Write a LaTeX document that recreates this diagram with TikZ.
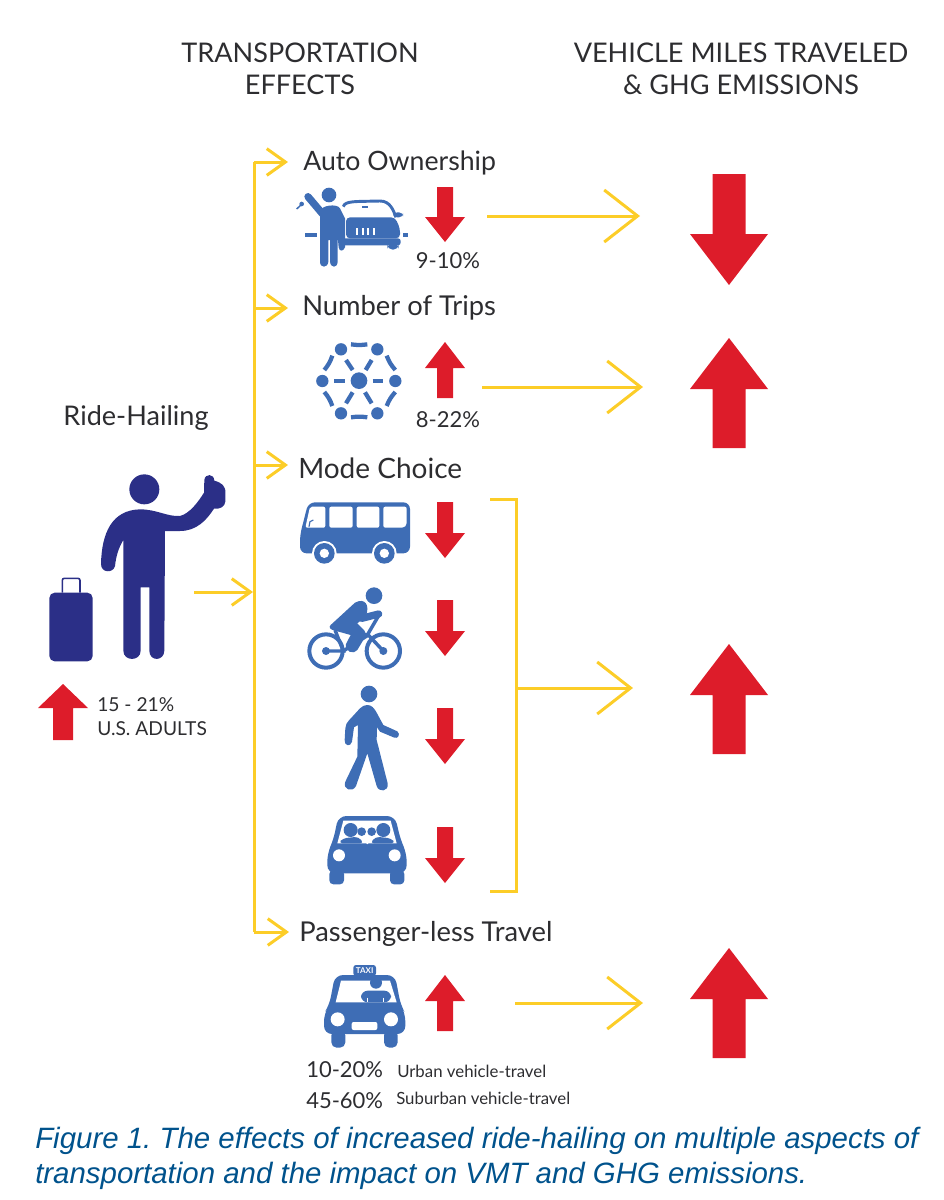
\documentclass[tikz,border=0pt]{standalone}
\usepackage{fontspec}
\setmainfont{Lato}
\newfontfamily\captionfont{Liberation Sans}
\usetikzlibrary{arrows.meta}
\definecolor{hailnavy}{RGB}{43,47,135}
\definecolor{iconblue}{RGB}{62,109,181}
\definecolor{arrowred}{RGB}{221,28,42}
\definecolor{lineyellow}{RGB}{252,205,40}
\definecolor{captionblue}{RGB}{0,82,140}
\definecolor{labelgray}{RGB}{45,45,48}
\tikzset{
  bigarrow/.style={draw=lineyellow,line width=2.25pt,-{Straight Barb[length=25pt,width=39pt,line width=2.25pt]}},
  smallarrow/.style={draw=lineyellow,line width=2.25pt,-{Straight Barb[length=14pt,width=20pt,line width=2.25pt]}},
  yellowline/.style={draw=lineyellow,line width=2.25pt},
  heading/.style={inner sep=0pt,text=labelgray,align=center,font=\fontsize{20.3}{24}\selectfont},
  effect/.style={inner sep=0pt,anchor=west,text=labelgray,font=\fontsize{20.5}{24}\selectfont},
  percent/.style={inner sep=0pt,text=labelgray,font=\fontsize{16.5}{18}\selectfont},
  tinylabel/.style={inner sep=0pt,anchor=west,text=labelgray,font=\fontsize{12.6}{15}\selectfont},
  iconA/.style={shift={(280,140)},scale=1/3},
  iconB/.style={shift={(280,490)},scale=1/3},
  iconC/.style={shift={(290,950)},scale=1/3},
  iconD/.style={shift={(30,460)},scale=1/3},
}
% x, tail, head base, tip, half shaft, half head
\newcommand{\redarrow}[6]{\fill[arrowred] (#1-#5,#2) -- (#1+#5,#2) -- (#1+#5,#3) -- (#1+#6,#3) -- (#1,#4) -- (#1-#6,#3) -- (#1-#5,#3) -- cycle;}
\begin{document}
\begin{tikzpicture}[x=0.75pt,y=0.75pt,yscale=-1,xscale=1]
  \useasboundingbox (0,0) rectangle (943,1200);
  %headings
  \node[heading] (transport) at (300,69) {TRANSPORTATION\\EFFECTS};
  \node[heading] (vmt) at (741,69) {VEHICLE MILES TRAVELED\\\& GHG EMISSIONS};
  \node[heading] (ridehail) at (136,418) {Ride-Hailing};
  %labels
  \node[effect,font=\fontsize{20}{24}\selectfont] (auto) at (303,163) {Auto Ownership};
  \node[effect] (trips) at (302,308) {Number of Trips};
  \node[effect,font=\fontsize{21}{24}\selectfont] (mode) at (298,468) {Mode Choice};
  \node[effect] (empty) at (299,934) {Passenger-less Travel};
  \node[percent] (autopct) at (448,261) {9-10\%};
  \node[percent] (tripspct) at (448,420) {8-22\%};
  \node[percent,anchor=west] (urbanpct) at (306,1070) {10-20\%};
  \node[percent,anchor=west] (suburbpct) at (306,1101) {45-60\%};
  \node[tinylabel] (urban) at (397,1071) {Urban vehicle-travel};
  \node[tinylabel] (suburb) at (396,1098) {Suburban vehicle-travel};
  \node[tinylabel,font=\fontsize{14.4}{17}\selectfont] (adultpct) at (97,705) {15 - 21\%};
  \node[tinylabel,font=\fontsize{14.4}{17}\selectfont] (adults) at (97,729) {U.S. ADULTS};
  \node[inner sep=0pt,anchor=west,text=captionblue,align=left,font=\captionfont\itshape\fontsize{22.07}{26.2}\selectfont] (caption) at (35,1158) {\frenchspacing Figure 1. The effects of increased ride-hailing on multiple aspects of\\transportation and the impact on VMT and GHG emissions.};
  %yellow connectors
  \coordinate (trunktop) at (254,162);
  \coordinate (trunktrips) at (254,308);
  \coordinate (trunkmode) at (254,465);
  \coordinate (trunkin) at (253,592);
  \coordinate (trunkbot) at (254,932);
  \coordinate (handoff) at (194,592);
  \coordinate (autotail) at (487,216);
  \coordinate (autohead) at (640,216);
  \coordinate (tripstail) at (482,387);
  \coordinate (tripshead) at (643,387);
  \coordinate (modetop) at (490,499);
  \coordinate (modetopr) at (516.5,499);
  \coordinate (modebotr) at (516.5,891);
  \coordinate (modebot) at (490,891);
  \coordinate (modetail) at (516.5,688);
  \coordinate (modehead) at (633,688);
  \coordinate (emptytail) at (515,1003);
  \coordinate (emptyhead) at (643,1003);
  \draw[yellowline] (trunktop) -- (trunkbot);
  \draw[smallarrow] (trunktop) -- ++(34,0);
  \draw[smallarrow] (trunktrips) -- ++(34,0);
  \draw[smallarrow] (trunkmode) -- ++(34,0);
  \draw[smallarrow] (trunkbot) -- ++(35,0);
  \draw[smallarrow] (handoff) -- (trunkin);
  \draw[bigarrow] (autotail) -- (autohead);
  \draw[bigarrow] (tripstail) -- (tripshead);
  \draw[yellowline] (modetop) -- (modetopr) -- (modebotr) -- (modebot);
  \draw[bigarrow] (modetail) -- (modehead);
  \draw[bigarrow] (emptytail) -- (emptyhead);
  %big red arrows
  \redarrow{729}{174}{234}{285}{16.5}{39}
  \foreach \y in {338, 644, 948} {
    \redarrow{729}{\y+110}{\y+51}{\y}{16.5}{39}
  }
  %small red arrows
  \redarrow{445}{187}{217}{242}{8}{20}
  \redarrow{445}{398}{368}{342}{8}{20}
  \foreach \y in {502, 600, 708, 827} {
    \redarrow{445}{\y}{\y+31}{\y+56}{8}{20}
  }
  \redarrow{445}{1031}{1001}{975}{8}{20}
  \redarrow{63}{740}{708}{684}{10}{25}
  %hailing person and suitcase
  \begin{scope}[iconD,hailnavy]
    \fill (343,88) circle (45);
    \fill (213,312) .. controls (215,220) and (245,150) .. (330,148)
      .. controls (380,148) and (410,170) .. (450,168)
      .. controls (480,160) and (505,125) .. (522,98)
      -- (523,60) .. controls (525,40) and (552,40) .. (553,62)
      .. controls (575,68) and (588,78) .. (586,100)
      -- (586,125) .. controls (585,140) and (570,148) .. (552,146)
      .. controls (530,180) and (500,213) .. (450,213)
      -- (405,213) -- (403,572) .. controls (402,605) and (358,605) .. (358,572)
      -- (358,382) -- (332,382) -- (332,572) .. controls (332,605) and (280,605) .. (280,572)
      -- (280,240) .. controls (265,265) and (258,290) .. (255,318)
      .. controls (250,340) and (213,340) .. (213,312) -- cycle;
    \fill[rounded corners=4pt] (58,398) rectangle (188,604);
    \draw[line width=1.2pt,rounded corners=1.5pt] (97,398) -- (97,355) -- (150,355) -- (150,398);
  \end{scope}
  %auto ownership icon
  \begin{scope}[iconA,iconblue]
    \fill (147,165) circle (22);
    \draw[line width=5.5pt,line cap=round] (128,222) -- (84,170);
    \fill (120,215) .. controls (122,195) and (172,190) .. (180,205) -- (195,235) -- (195,322) .. controls (190,335) and (178,335) .. (176,322) -- (173,290) -- (173,365) .. controls (172,385) and (152,385) .. (150,365) -- (150,300) -- (145,300) -- (145,365) .. controls (143,385) and (120,385) .. (120,365) -- cycle;
    \draw[line width=1.1pt] (68,190) -- (50,207);
    \fill (65,192) circle (7);
    \draw[line width=2.2pt] (190,200) .. controls (195,182) and (225,185) .. (300,183) .. controls (330,183) and (340,210) .. (348,232);
    \fill (245,197) rectangle (265,203);
    \fill[rounded corners=3pt] (198,232) -- (345,232) -- (360,265) -- (360,295) -- (198,295) -- cycle;
    \fill[rounded corners=2pt] (180,295) rectangle (362,316);
    \fill[rounded corners=4pt] (322,310) rectangle (356,329);
    \fill[rounded corners=3pt] (340,217) rectangle (369,232);
    \fill (75,280) rectangle (110,290);
    \fill (370,280) rectangle (385,291);
    \foreach \x in {228,245,262,280} {
      \fill[white] (\x,264) rectangle ++(6,22);
    }
  \end{scope}
  %number of trips icon
  \begin{scope}[iconA,iconblue]
    \fill (237,722) circle (25);
    \foreach \x/\y in {127/723, 346/723, 183/628, 292/628, 183/820, 292/820} {
      \fill (\x,\y) circle (18.5);
    }
    \foreach \a/\b/\c/\d in {163/722/195/722, 278/722/310/722, 198/660/218/690, 275/660/257/690, 198/790/218/757, 275/790/255/757} {
      \draw[line width=3.2pt] (\a,\b) -- (\c,\d);
    }
    \draw[line width=3.2pt] (213,613) to[bend left=8] (262,613);
    \draw[line width=3.2pt] (213,832) to[bend right=8] (262,832);
    \draw[line width=3.2pt] (133,690) to[bend left=10] (157,647);
    \draw[line width=3.2pt] (320,647) to[bend left=10] (346,690);
    \draw[line width=3.2pt] (133,756) to[bend right=10] (157,798);
    \draw[line width=3.2pt] (320,798) to[bend right=10] (346,756);
  \end{scope}
  %bus
  \begin{scope}[iconB,iconblue]
    \fill[rounded corners=5pt] (85,37) -- (390,37) -- (390,190) -- (60,190) -- (60,135) -- cycle;
    \fill[white,rounded corners=1.5pt] (90,50) -- (136,50) -- (136,113) -- (76,113) -- cycle;
    \draw[line width=0.9pt] (87,110) -- (90,95) -- (100,90);
    \fill[white,rounded corners=1.5pt] (148,50) rectangle (218,113);
    \fill[white,rounded corners=1.5pt] (230,50) rectangle (298,113);
    \fill[white,rounded corners=1.5pt] (310,50) -- (380,50) -- (380,105) -- (372,113) -- (310,113) -- cycle;
    \foreach \x in {133,313} {
      \fill[white] (\x,190) circle (37);
      \fill (\x,190) circle (31);
      \fill[white] (\x,190) circle (14);
    }
  \end{scope}
  %cyclist
  \begin{scope}[iconB,iconblue]
    \fill (282,317) circle (25);
    \foreach \x in {138,310} {
      \draw[line width=3pt] (\x,483) circle (50);
    }
    \draw[line width=2.6pt] (138,483) -- (190,483) -- (165,420);
    \draw[line width=2.6pt] (190,483) -- (265,435) -- (310,483);
    \draw[line width=2.6pt] (297,375) -- (262,435);
    \draw[line width=2.6pt] (165,415) -- (260,435);
    \fill (138,483) circle (12);
    \fill (310,483) circle (12);
    \draw[line width=5.5pt,line cap=round] (245,385) -- (296,372);
    \fill (152,405) -- (225,338) .. controls (255,322) and (270,345) .. (258,378) -- (232,400) -- (252,420) .. controls (260,430) and (257,440) .. (250,450) -- (232,480) .. controls (222,495) and (192,485) .. (198,462) -- (212,435) -- (165,422) .. controls (148,418) and (146,412) .. (152,405) -- cycle;
  \end{scope}
  %walker
  \begin{scope}[iconB,iconblue]
    \fill (267,612) circle (25);
    \fill (262,645) .. controls (275,645) and (283,655) .. (290,668) -- (310,705) -- (352,724) .. controls (362,732) and (355,748) .. (343,743) -- (300,725) -- (291,712) -- (290,750) -- (323,880) .. controls (327,906) and (296,908) .. (290,888) -- (262,790) -- (228,888) .. controls (218,908) and (187,900) .. (196,875) -- (232,800) -- (234,705) -- (222,712) -- (216,755) .. controls (212,772) and (192,768) .. (194,750) -- (196,715) .. controls (197,705) and (200,698) .. (206,692) -- (240,655) .. controls (247,648) and (254,645) .. (262,645) -- cycle;
  \end{scope}
  %carpool
  \begin{scope}[iconB,iconblue]
    \fill[rounded corners=6pt] (175,978) -- (345,978) -- (362,1050) -- (380,1090) -- (380,1150) -- (142,1150) -- (142,1090) -- (160,1050) -- cycle;
    \fill[rounded corners=3pt] (148,1140) rectangle (192,1183);
    \fill[rounded corners=3pt] (330,1140) rectangle (373,1183);
    \fill[white] (190,992) -- (332,992) -- (350,1060) -- (172,1060) -- cycle;
    \fill[white] (177,1096) ellipse (18 and 18);
    \fill[white] (344,1096) ellipse (18 and 18);
    \fill (245,1025) circle (13);
    \fill (275,1025) circle (13);
    \fill (212,1020) circle (21);
    \fill (310,1020) circle (21);
    \fill[rounded corners=3pt] (176,1060) -- (188,1045) -- (235,1040) -- (252,1060) -- cycle;
    \fill[rounded corners=3pt] (346,1060) -- (334,1045) -- (287,1040) -- (270,1060) -- cycle;
    \draw[white,line width=0.9pt] (245,1045) -- (262,1060) -- (278,1045);
  \end{scope}
  %taxi
  \begin{scope}[iconC,iconblue]
    \fill[rounded corners=2pt] (190,45) rectangle (258,78);
    \node[inner sep=0pt,text=white,font=\bfseries\fontsize{6}{7}\selectfont] (taxisign) at (224,61) {TAXI};
    \fill[rounded corners=6pt] (135,75) -- (315,75) -- (332,165) -- (346,190) -- (346,252) -- (102,252) -- (102,190) -- (118,165) -- cycle;
    \fill[rounded corners=4pt] (124,240) rectangle (166,293);
    \fill[rounded corners=4pt] (282,240) rectangle (323,293);
    \fill[white] (153,92) -- (300,92) -- (320,157) -- (137,157) -- cycle;
    \fill (258,98) circle (18);
    \fill[rounded corners=5pt] (213,157) -- (213,122) -- (303,122) -- (303,157) -- cycle;
    \draw[white,line width=0.6pt] (232,143) -- (232,157) (280,143) -- (280,157);
    \fill[white] (143,208) circle (21);
    \fill[white] (303,208) circle (21);
    \fill[white,rounded corners=1.5pt] (185,216) rectangle (262,240);
  \end{scope}
\end{tikzpicture}
\end{document}
